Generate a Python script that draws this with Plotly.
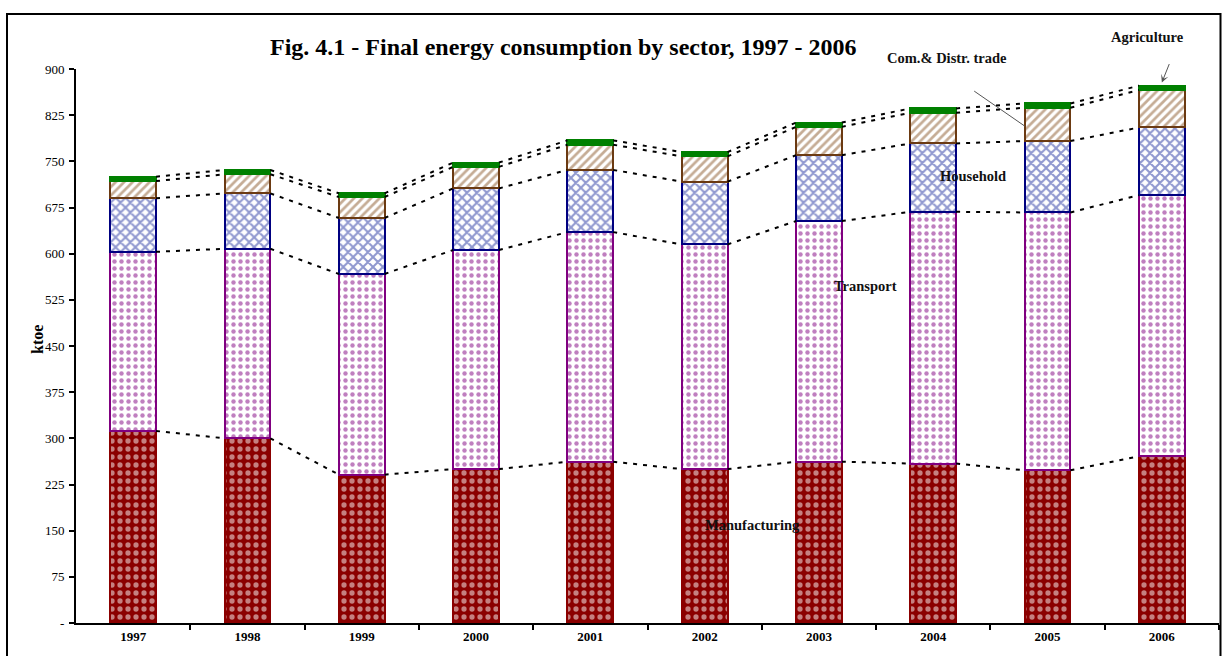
import plotly.graph_objects as go

years = ["1997", "1998", "1999", "2000", "2001", "2002", "2003", "2004", "2005", "2006"]
manufacturing = [312, 300, 241, 250, 262, 250, 262, 259, 248, 271]
transport = [291, 308, 326, 356, 373, 365, 391, 409, 419, 424]
household = [87, 90, 91, 100, 101, 102, 107, 111, 116, 110]
com_trade = [28, 31, 34, 35, 41, 41, 46, 50, 54, 61]
agriculture = [7, 7, 6, 7, 7, 7, 7, 7, 7, 7]

y_ticks = list(range(0, 901, 75))
y_ticktext = ["-"] + [str(v) for v in y_ticks[1:]]

W, H = 1222, 656
ML, MR, MT, MB = 76, 3, 69, 33
PW, PH = W - ML - MR, H - MT - MB
BAR_W = 0.4
FONT = "Liberation Serif"

def px_x(p):
    return (p - ML) / PW

def px_y(p):
    return (H - MB - p) / PH

x = list(range(len(years)))

# name, values, pattern fg, outline, shape, size, solidity, background
series = [
    ("Manufacturing", manufacturing, "white", "#8b0000", ".", 8, 0.34, "#8b0000"),
    ("Transport", transport, "#800080", "#800080", ".", 7, 0.32, "white"),
    ("Household", household, "#1f2f9f", "#000080", "x", 7, 0.5, "white"),
    ("Com.& Distr. trade", com_trade, "#8b5a2b", "#6b3a12", "/", 6, 0.45, "white"),
    ("Agriculture", agriculture, "#008000", "#008000", "", 6, 0.3, "#008000"),
]

fig = go.Figure()
for name, vals, fg, line_c, shape, size, sol, bg in series:
    marker = dict(color=bg, line=dict(color=line_c, width=2))
    if shape:
        marker["pattern"] = dict(shape=shape, fgcolor=fg, bgcolor=bg, size=size, solidity=sol)
    fig.add_trace(go.Bar(x=x, y=vals, name=name, width=BAR_W, marker=marker,
                         showlegend=False, hoverinfo="skip"))

# series lines connecting segment tops
cum = [0] * len(years)
for name, vals, *_ in series:
    cum = [c + v for c, v in zip(cum, vals)]
    lx, ly = [], []
    for i in range(len(years) - 1):
        lx += [i + BAR_W / 2, i + 1 - BAR_W / 2, None]
        ly += [cum[i], cum[i + 1], None]
    fig.add_trace(go.Scatter(x=lx, y=ly, mode="lines",
                             line=dict(color="black", width=2, dash="4px,6px"),
                             showlegend=False, hoverinfo="skip"))

totals = cum

fig.update_layout(
    width=W, height=H,
    margin=dict(l=ML, r=MR, t=MT, b=MB),
    barmode="stack",
    plot_bgcolor="white", paper_bgcolor="white",
    font=dict(family=FONT, color="black"),
    xaxis=dict(range=[-0.5, 9.5], tickmode="array", tickvals=x, ticktext=years,
               ticks="", showgrid=False, zeroline=False,
               showline=True, linecolor="black", linewidth=2,
               tickfont=dict(family=FONT, size=13, color="black", weight="bold"),
               minor=dict(tickvals=[i + 0.5 for i in x], ticks="outside",
                          ticklen=5, tickwidth=2, tickcolor="black", showgrid=False)),
    yaxis=dict(range=[0, 900], tickmode="array", tickvals=y_ticks, ticktext=y_ticktext,
               ticks="outside", ticklen=5, tickwidth=2, tickcolor="black",
               showgrid=False, zeroline=False, showline=True, linecolor="black", linewidth=2,
               tickfont=dict(family=FONT, size=13, color="black"),
               ticklabelstandoff=2),
)

def label(text, px, py, size, **kw):
    return dict(text=text, xref="paper", yref="paper", x=px_x(px), y=px_y(py),
                xanchor="center", yanchor="middle", showarrow=False,
                font=dict(size=size, family=FONT, color=kw.pop("color", "black")), **kw)

ann = []
ann.append(label("<b>Fig. 4.1 - Final energy consumption by sector, 1997 - 2006</b>", 563, 47, 24))
ann.append(label("<b>ktoe</b>", 37, 340, 16, textangle=-90))
ann.append(label("<b>Manufacturing</b>", 752, 525, 14.5, color="#111111"))
ann.append(label("<b>Transport</b>", 865, 286, 14.5, color="#111111"))
ann.append(label("<b>Household</b>", 973, 176, 14.5, color="#111111"))
ann.append(label("<b>Com.& Distr. trade</b>", 947, 58, 14.5, color="#111111"))
ann.append(label("<b>Agriculture</b>", 1147, 37, 14.5, color="#111111"))

# arrows
i05 = years.index("2005")
c05 = manufacturing[i05] + transport[i05] + household[i05] + com_trade[i05] * 0.45
ann.append(dict(text="", x=i05 - BAR_W / 2, y=c05, xref="x", yref="y",
                showarrow=True, arrowhead=0, arrowwidth=1, arrowcolor="#555555",
                ax=-52, ay=-36))
i06 = years.index("2006")
ann.append(dict(text="", x=i06, y=totals[i06] + 5, xref="x", yref="y",
                showarrow=True, arrowhead=3, arrowsize=1.3, arrowwidth=1, arrowcolor="#555555",
                ax=8, ay=-20))
fig.update_layout(annotations=ann)

# outer frame
fig.add_shape(type="rect", xref="paper", yref="paper",
              x0=px_x(7), x1=px_x(1220.5), y0=px_y(670), y1=px_y(14),
              line=dict(color="black", width=2), fillcolor="rgba(0,0,0,0)", layer="above")

fig.write_html("out.html", config={"displayModeBar": False},
               post_script="document.body.style.margin='0px';document.body.style.overflow='hidden';")
